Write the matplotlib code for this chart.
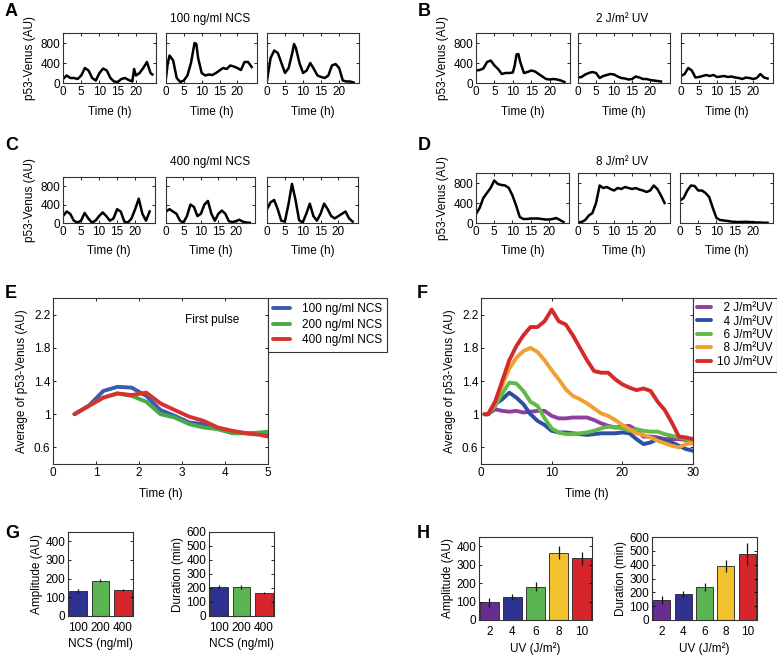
import numpy as np
import matplotlib
matplotlib.use('Agg')
import matplotlib.pyplot as plt

plt.rcParams['font.family'] = ['Liberation Sans', 'DejaVu Sans']
plt.rcParams['font.size'] = 8.5
plt.rcParams['axes.linewidth'] = 0.8
plt.rcParams['axes.edgecolor'] = '#333333'

W, H = 777, 655
fig = plt.figure(figsize=(W / 100, H / 100), dpi=100)


def rect(x0, y0, x1, y1):
    return [x0 / W, 1 - y1 / H, (x1 - x0) / W, (y1 - y0) / H]


def style(ax):
    ax.tick_params(direction='in', top=True, right=True, length=2.5, width=0.6, pad=2)


# ---------------- single cell traces (A-D) ----------------
hrs = list(range(25))

A_traces = [
    ([0, 1, 2, 3, 4, 5, 6, 7, 8, 9, 10, 11, 12, 13, 14, 15, 16, 17, 18, 19, 19.5, 20, 21, 22, 23, 24, 24.5],
     [80, 150, 100, 100, 80, 150, 300, 250, 100, 50, 200, 290, 250, 100, 30, 20, 80, 100, 60, 30, 280, 150, 200, 300, 420, 200, 170]),
    ([0, 0.5, 1, 2, 3, 4, 5, 6, 7, 8, 8.5, 9, 10, 11, 12, 13, 14, 15, 16, 17, 18, 19, 20, 21, 22, 23, 24],
     [100, 400, 550, 450, 100, 20, 50, 150, 400, 800, 780, 500, 200, 150, 170, 160, 200, 250, 300, 280, 350, 330, 300, 260, 420, 420, 320]),
    ([0, 1, 2, 3, 4, 5, 6, 7, 7.5, 8, 9, 10, 11, 12, 13, 14, 15, 16, 17, 18, 19, 20, 21, 22, 23, 24],
     [50, 500, 650, 600, 400, 200, 300, 600, 780, 700, 400, 200, 250, 400, 280, 150, 120, 100, 150, 350, 380, 300, 50, 30, 30, 10]),
]
B_traces = [
    ([0, 1, 2, 3, 4, 5, 6, 7, 8, 9, 10, 10.5, 11, 11.5, 12, 13, 14, 15, 16, 17, 18, 19, 20, 21, 22, 23, 24],
     [250, 260, 290, 420, 450, 350, 280, 180, 200, 200, 210, 350, 570, 580, 420, 200, 220, 250, 230, 180, 130, 80, 70, 80, 70, 50, 20]),
    (hrs[:24],
     [110, 120, 170, 200, 220, 200, 100, 140, 160, 180, 170, 130, 100, 90, 70, 80, 130, 110, 80, 80, 60, 50, 40, 30]),
    (hrs,
     [140, 180, 300, 250, 110, 120, 140, 160, 140, 160, 120, 130, 140, 120, 130, 110, 100, 80, 110, 100, 80, 100, 180, 110, 90]),
]
C_traces = [
    (hrs,
     [150, 250, 200, 50, 10, 50, 220, 100, 10, 50, 150, 230, 150, 50, 100, 300, 250, 30, 10, 100, 300, 530, 200, 50, 250]),
    (hrs,
     [250, 300, 250, 200, 50, 10, 150, 400, 350, 150, 200, 400, 480, 200, 50, 200, 270, 200, 40, 20, 40, 70, 30, 10, 5]),
    (hrs,
     [300, 450, 500, 300, 50, 30, 400, 850, 500, 60, 10, 200, 420, 150, 50, 200, 420, 300, 150, 100, 150, 200, 250, 100, 30]),
]
D_traces = [
    (hrs,
     [180, 300, 500, 600, 700, 850, 780, 760, 750, 700, 550, 350, 120, 80, 80, 90, 90, 90, 80, 70, 70, 80, 100, 60, 20]),
    (hrs,
     [10, 20, 60, 150, 200, 400, 750, 700, 720, 680, 650, 700, 680, 720, 700, 680, 700, 670, 650, 620, 650, 750, 680, 550, 400]),
    (hrs,
     [450, 500, 650, 750, 740, 650, 650, 600, 520, 300, 100, 60, 50, 40, 30, 20, 20, 20, 25, 20, 15, 10, 10, 5, 5]),
]

trace_panels = [
    ('A', '100 ng/ml NCS', A_traces, [(63, 156), (166, 257), (267, 359)], (33, 83), 5, 12, 210, 19, 6),
    ('B', '2 J/m² UV', B_traces, [(476, 570), (578, 670), (681, 773)], (33, 83), 418, 12, 622, 19, 6),
    ('C', '400 ng/ml NCS', C_traces, [(63, 155), (166, 255), (267, 358)], (177, 223), 5, 146, 210, 162, 5),
    ('D', '8 J/m² UV', D_traces, [(476, 569), (578, 670), (680, 773)], (173, 223), 418, 146, 622, 162, 5),
]

for letter, title, traces, xs, (ytop, ybot), lx, ly, tx, ty, lp in trace_panels:
    fig.text(lx / W, 1 - ly / H, letter, fontsize=13, fontweight='bold', va='center', ha='left')
    fig.text(tx / W, 1 - ty / H, title, va='center', ha='center')
    for i, ((t, v), (x0, x1)) in enumerate(zip(traces, xs)):
        ax = fig.add_axes(rect(x0, ytop, x1, ybot))
        ax.plot(t, v, color='black', lw=1.8)
        ax.set_xlim(0, 25.5)
        ax.set_ylim(0, 1000)
        ax.set_xticks([0, 5, 10, 15, 20])
        ax.set_yticks([0, 400, 800])
        style(ax)
        ax.set_xlabel('Time (h)', labelpad=lp)
        if i > 0:
            ax.set_yticklabels([])
        else:
            ax.set_ylabel('p53-Venus (AU)', labelpad=3)

# ---------------- E: average NCS ----------------
e_t = [0.5, 0.83, 1.17, 1.5, 1.83, 2.17, 2.5, 2.83, 3.17, 3.5, 3.83, 4.17, 4.5, 4.83, 5.0]
e_100 = [1.0, 1.1, 1.28, 1.33, 1.32, 1.22, 1.05, 0.98, 0.9, 0.88, 0.83, 0.79, 0.77, 0.76, 0.75]
e_200 = [1.0, 1.1, 1.2, 1.25, 1.22, 1.15, 1.0, 0.96, 0.88, 0.84, 0.82, 0.77, 0.77, 0.78, 0.79]
e_400 = [1.0, 1.1, 1.2, 1.25, 1.23, 1.26, 1.13, 1.05, 0.97, 0.92, 0.84, 0.80, 0.77, 0.75, 0.73]
e_labels = ['100 ng/ml NCS', '200 ng/ml NCS', '400 ng/ml NCS']
e_colors = ['#3a5bb0', '#4aa84a', '#d8322e']

fig.text(5 / W, 1 - 294 / H, 'E', fontsize=13, fontweight='bold', va='center')
axE = fig.add_axes(rect(53, 298, 268, 464))
lines = []
for y, c, lab in zip([e_100, e_200, e_400], e_colors, e_labels):
    lines += axE.plot(e_t, y, color=c, lw=2.8, label=lab, solid_capstyle='round')
axE.set_xlim(0, 5)
axE.set_ylim(0.4, 2.4)
axE.set_yticks([0.6, 1, 1.4, 1.8, 2.2])
axE.set_yticklabels(['0.6', '1', '1.4', '1.8', '2.2'])
style(axE)
axE.set_xlabel('Time (h)', labelpad=7)
axE.set_ylabel('Average of p53-Venus (AU)', labelpad=4)
axE.text(3.7, 2.13, 'First pulse', ha='center', va='center')
fig.legend(handles=lines, loc='upper left', bbox_to_anchor=(268 / W, 1 - 298 / H),
           fancybox=False, edgecolor='#333333', framealpha=1, handlelength=1.4,
           borderpad=0.45, labelspacing=0.3, handletextpad=1.0, borderaxespad=0,
           fontsize=8.5).get_frame().set_linewidth(0.8)

# ---------------- F: average UV ----------------
f_t = [0.5, 1, 2, 3, 4, 5, 6, 7, 8, 9, 10, 11, 12, 13, 14, 15, 16, 17, 18, 19, 20, 21, 22, 23, 24, 25, 26, 27, 28, 29, 30]
f_2 = [1.0, 1.0, 1.06, 1.04, 1.03, 1.04, 1.02, 1.03, 1.04, 1.04, 0.98, 0.95, 0.95, 0.96, 0.96, 0.96, 0.93, 0.89, 0.86,
       0.84, 0.85, 0.86, 0.81, 0.73, 0.73, 0.72, 0.7, 0.7, 0.7, 0.69, 0.7]
f_4 = [1.0, 1.0, 1.12, 1.18, 1.26, 1.2, 1.12, 1.0, 0.92, 0.87, 0.8, 0.78, 0.78, 0.77, 0.76, 0.75, 0.76, 0.77, 0.77,
       0.77, 0.78, 0.77, 0.7, 0.64, 0.66, 0.7, 0.68, 0.66, 0.62, 0.58, 0.56]
f_6 = [1.0, 1.0, 1.1, 1.25, 1.38, 1.37, 1.28, 1.15, 1.1, 0.95, 0.83, 0.78, 0.76, 0.76, 0.77, 0.78, 0.8, 0.83, 0.85,
       0.84, 0.83, 0.8, 0.82, 0.8, 0.79, 0.79, 0.76, 0.74, 0.72, 0.7, 0.69]
f_8 = [1.0, 1.0, 1.15, 1.35, 1.55, 1.68, 1.76, 1.8, 1.75, 1.65, 1.53, 1.42, 1.3, 1.22, 1.18, 1.13, 1.07, 1.01, 0.98,
       0.93, 0.87, 0.82, 0.77, 0.75, 0.72, 0.68, 0.65, 0.62, 0.6, 0.64, 0.65]
f_10 = [1.0, 1.0, 1.15, 1.4, 1.65, 1.82, 1.95, 2.05, 2.05, 2.12, 2.26, 2.12, 2.08, 1.95, 1.8, 1.65, 1.52, 1.5, 1.5,
        1.42, 1.36, 1.32, 1.29, 1.31, 1.28, 1.15, 1.05, 0.9, 0.73, 0.72, 0.7]
f_labels = ['  2 J/m²UV', '  4 J/m²UV', '  6 J/m²UV', '  8 J/m²UV', '10 J/m²UV']
f_colors = ['#8e3fa0', '#2c4fa3', '#64b847', '#f0a030', '#d42a2a']

fig.text(417 / W, 1 - 294 / H, 'F', fontsize=13, fontweight='bold', va='center')
axF = fig.add_axes(rect(481, 298, 693, 464))
lines = []
for y, c, lab in zip([f_2, f_4, f_6, f_8, f_10], f_colors, f_labels):
    lines += axF.plot(f_t, y, color=c, lw=2.8, label=lab, solid_capstyle='round')
axF.set_xlim(0, 30)
axF.set_ylim(0.4, 2.4)
axF.set_yticks([0.6, 1, 1.4, 1.8, 2.2])
axF.set_yticklabels(['0.6', '1', '1.4', '1.8', '2.2'])
style(axF)
axF.set_xlabel('Time (h)', labelpad=7)
axF.set_ylabel('Average of p53-Venus (AU)', labelpad=4)
fig.legend(handles=lines, loc='upper left', bbox_to_anchor=(693 / W, 1 - 298 / H),
           fancybox=False, edgecolor='#333333', framealpha=1, handlelength=1.2,
           borderpad=0.35, labelspacing=0.12, handletextpad=0.5, borderaxespad=0,
           fontsize=8.5).get_frame().set_linewidth(0.8)

# ---------------- G / H: bar charts ----------------
g_cats = ['100', '200', '400']
g_amp = [135, 190, 140]
g_amp_err = [10, 10, 7]
g_dur = [205, 207, 165]
g_dur_err = [15, 12, 7]
g_colors = ['#2e3192', '#5ab452', '#d7262b']

h_cats = ['2', '4', '6', '8', '10']
h_amp = [95, 125, 180, 365, 335]
h_amp_err = [22, 18, 25, 35, 35]
h_dur = [145, 185, 240, 390, 480]
h_dur_err = [30, 22, 28, 45, 80]
h_colors = ['#6a2c91', '#2e3192', '#5ab452', '#f2c12e', '#d7262b']

bar_panels = [
    (g_cats, g_amp, g_amp_err, g_colors, (68, 133), (532, 616), 450, [0, 100, 200, 300, 400], 'Amplitude (AU)', 'NCS (ng/ml)'),
    (g_cats, g_dur, g_dur_err, g_colors, (209, 274), (532, 616), 600, [0, 100, 200, 300, 400, 500, 600], 'Duration (min)', 'NCS (ng/ml)'),
    (h_cats, h_amp, h_amp_err, h_colors, (479, 592), (537, 620), 450, [0, 100, 200, 300, 400], 'Amplitude (AU)', 'UV (J/m²)'),
    (h_cats, h_dur, h_dur_err, h_colors, (652, 757), (537, 620), 600, [0, 100, 200, 300, 400, 500, 600], 'Duration (min)', 'UV (J/m²)'),
]
fig.text(5 / W, 1 - 533 / H, 'G', fontsize=13, fontweight='bold', va='center')
fig.text(417 / W, 1 - 533 / H, 'H', fontsize=13, fontweight='bold', va='center')

for cats, vals, errs, cols, (x0, x1), (y0, y1), ymax, yt, ylab, xlab in bar_panels:
    ax = fig.add_axes(rect(x0, y0, x1, y1))
    pos = np.arange(len(cats))
    ax.bar(pos, vals, width=0.8, color=cols, edgecolor='#222222', linewidth=0.6)
    ax.errorbar(pos, vals, yerr=errs, fmt='none', ecolor='#111111', elinewidth=0.9, capsize=0)
    ax.set_xlim(-0.45, len(cats) - 0.55)
    ax.set_ylim(0, ymax)
    ax.set_yticks(yt)
    ax.set_xticks(pos)
    ax.set_xticklabels(cats)
    ax.tick_params(direction='in', right=True, length=2.5, width=0.6, pad=2)
    ax.tick_params(axis='x', length=0, pad=4)
    ax.set_ylabel(ylab, labelpad=2)
    ax.set_xlabel(xlab, labelpad=3)

fig.savefig('out.png', dpi=100)
